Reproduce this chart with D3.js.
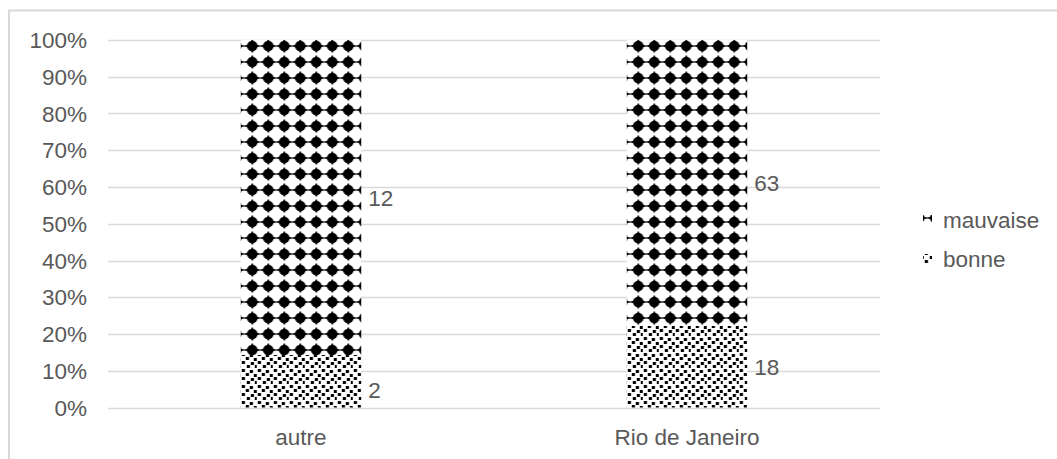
<!DOCTYPE html>
<html>
<head>
<meta charset="utf-8">
<script src="https://cdn.jsdelivr.net/npm/d3@7"></script>
<style>
  body { margin: 0; background: #fff; }
  svg { display: block; font-family: "Liberation Sans", Arial, sans-serif; }
</style>
</head>
<body>
<svg width="1057" height="459"></svg>
<script>
var categories = ["autre", "Rio de Janeiro"];
var bonne = [2, 18];
var mauvaise = [12, 63];
var seriesNames = ["mauvaise", "bonne"];
var tickValues = [0, 0.1, 0.2, 0.3, 0.4, 0.5, 0.6, 0.7, 0.8, 0.9, 1];

var svg = d3.select("svg");
var textColor = "#595959", gridColor = "#d9d9d9", fs = "22.5px";

// chart area border (right/bottom cut off in the picture)
svg.append("rect")
    .attr("x", 9).attr("y", 10.5)
    .attr("width", 1200).attr("height", 600)
    .attr("fill", "none").attr("stroke", gridColor).attr("stroke-width", 2);

var y = d3.scaleLinear().domain([0, 1]).range([407.5, 40]);
var x = d3.scaleBand().domain(categories).range([108, 880]).padding(0);
var barW = x.bandwidth() * 0.312;

var defs = svg.append("defs");

// patterns, one per bar so the tiles line up with the bar edge
categories.forEach(function (c, i) {
    var left = x(c) + (x.bandwidth() - barW) / 2;

    var pm = defs.append("pattern")
        .attr("id", "mauv-" + i)
        .attr("patternUnits", "userSpaceOnUse")
        .attr("x", left + 3.5).attr("y", y(1) - 2)
        .attr("width", 16).attr("height", 16);
    pm.append("rect").attr("width", 16).attr("height", 16).attr("fill", "#fff");
    pm.append("line").attr("x1", 0).attr("x2", 16).attr("y1", 8).attr("y2", 8)
        .attr("stroke", "#000").attr("stroke-width", 1.2);
    pm.append("path")
        .attr("d", "M8,0.8 Q9.6,5 15.2,8 Q9.6,11 8,15.2 Q6.4,11 0.8,8 Q6.4,5 8,0.8Z")
        .attr("fill", "#000");
    pm.append("circle").attr("cx", 8).attr("cy", 8).attr("r", 5.3).attr("fill", "#000");

    var pb = defs.append("pattern")
        .attr("id", "bon-" + i)
        .attr("patternUnits", "userSpaceOnUse")
        .attr("x", left).attr("y", 0)
        .attr("width", 16).attr("height", 16);
    pb.append("rect").attr("width", 16).attr("height", 16).attr("fill", "#fff");
    [[1, 1], [9, 2], [5, 5], [13, 6], [1, 9], [10, 10], [6, 13], [14, 13]].forEach(function (p) {
        pb.append("rect").attr("x", p[0]).attr("y", p[1])
            .attr("width", 3.2).attr("height", 3).attr("fill", "#000");
    });
});

// gridlines
svg.append("g").selectAll("line")
    .data(tickValues)
    .join("line")
    .attr("x1", 108).attr("x2", 880)
    .attr("y1", function (d) { return Math.round(y(d)) + 0.5; })
    .attr("y2", function (d) { return Math.round(y(d)) + 0.5; })
    .attr("stroke", gridColor).attr("stroke-width", 1.3);

// y tick labels
svg.append("g").selectAll("text")
    .data(tickValues)
    .join("text")
    .attr("x", 87)
    .attr("y", function (d) { return y(d); })
    .attr("dy", "0.36em")
    .attr("text-anchor", "end")
    .attr("fill", textColor).style("font-size", fs)
    .text(d3.format(".0%"));

// stacked 100% data
var rows = categories.map(function (c, i) {
    var t = bonne[i] + mauvaise[i];
    return { cat: c, i: i, b: bonne[i] / t, m: mauvaise[i] / t, bv: bonne[i], mv: mauvaise[i] };
});

var bars = svg.append("g").selectAll("g")
    .data(rows)
    .join("g");

bars.append("rect")
    .attr("x", function (d) { return x(d.cat) + (x.bandwidth() - barW) / 2; })
    .attr("width", barW)
    .attr("y", function (d) { return y(d.b); })
    .attr("height", function (d) { return y(0) - y(d.b); })
    .attr("fill", function (d) { return "url(#bon-" + d.i + ")"; });

bars.append("rect")
    .attr("x", function (d) { return x(d.cat) + (x.bandwidth() - barW) / 2; })
    .attr("width", barW)
    .attr("y", y(1))
    .attr("height", function (d) { return y(d.b) - y(1); })
    .attr("fill", function (d) { return "url(#mauv-" + d.i + ")"; });

// data labels
bars.append("text")
    .attr("x", function (d) { return x(d.cat) + (x.bandwidth() + barW) / 2 + 7; })
    .attr("y", function (d) { return y(d.b / 2) + (d.b < 0.2 ? 9 : 0); })
    .attr("dy", "0.36em")
    .attr("fill", textColor).style("font-size", fs)
    .text(function (d) { return d.bv; });

bars.append("text")
    .attr("x", function (d) { return x(d.cat) + (x.bandwidth() + barW) / 2 + 7; })
    .attr("y", function (d) { return y(d.b + d.m / 2); })
    .attr("dy", "0.36em")
    .attr("fill", textColor).style("font-size", fs)
    .text(function (d) { return d.mv; });

// category labels
svg.append("g").selectAll("text")
    .data(categories)
    .join("text")
    .attr("x", function (d) { return x(d) + x.bandwidth() / 2; })
    .attr("y", 445)
    .attr("text-anchor", "middle")
    .attr("fill", textColor).style("font-size", fs)
    .text(function (d) { return d; });

// legend
var legend = svg.append("g").selectAll("g")
    .data(seriesNames)
    .join("g")
    .attr("transform", function (d, i) { return "translate(923," + (220 + i * 39) + ")"; });

legend.append("rect")
    .attr("x", 0).attr("y", -5)
    .attr("width", 9).attr("height", 10)
    .attr("fill", function (d) { return d === "mauvaise" ? "url(#mauv-0)" : "url(#bon-0)"; });

legend.append("text")
    .attr("x", 20).attr("y", 0)
    .attr("dy", "0.36em")
    .attr("fill", textColor).style("font-size", fs)
    .text(function (d) { return d; });
</script>
</body>
</html>
